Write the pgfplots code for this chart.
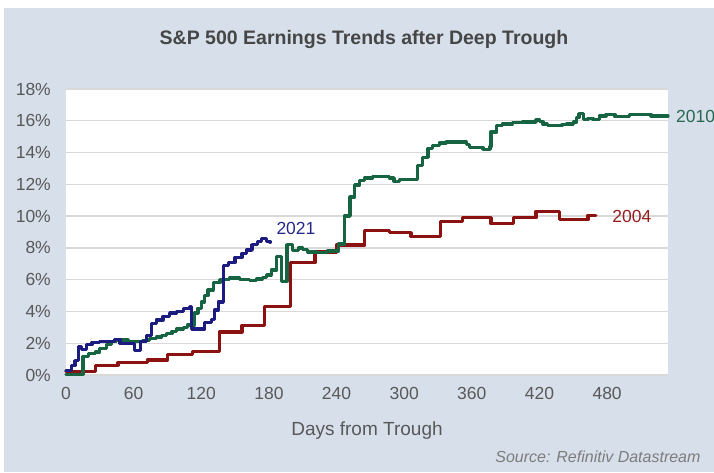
\documentclass[border=0pt]{standalone}
\usepackage{fontspec}
\setmainfont{Liberation Sans}
\usepackage{pgfplots}
\pgfplotsset{compat=1.18}
\definecolor{bgc}{RGB}{214,223,234}
\definecolor{gridc}{RGB}{217,217,217}
\definecolor{tickc}{RGB}{89,89,89}
\definecolor{titlec}{RGB}{70,70,70}
\definecolor{srcc}{RGB}{125,125,125}
\definecolor{c21}{RGB}{28,28,128}
\definecolor{c10}{RGB}{22,100,66}
\definecolor{c04}{RGB}{140,18,18}
\definecolor{t21}{RGB}{40,40,140}
\definecolor{t10}{RGB}{40,105,80}
\definecolor{t04}{RGB}{150,30,30}
\begin{document}
\begin{tikzpicture}
\useasboundingbox (0,0) rectangle (714pt,472pt);
\fill[white] (0,0) rectangle (714pt,472pt);
\fill[bgc] (4pt,0) rectangle (714pt,464pt);
\node[font=\fontsize{19.5}{22}\selectfont\bfseries, text=titlec] at (364pt,432pt) {S\&P 500 Earnings Trends after Deep Trough};
\node[font=\fontsize{16}{18}\selectfont\itshape, text=srcc, anchor=east] at (704pt,15pt) {Source: Refinitiv Datastream};
\begin{axis}[
  at={(66pt,97pt)}, anchor=south west,
  scale only axis, width=602pt, height=286pt,
  xmin=0, xmax=534, ymin=0, ymax=18,
  xtick={0,60,...,480}, ytick={0,2,...,18},
  axis background/.style={fill=white},
  axis line style={draw=none},
  major tick length=0pt,
  ymajorgrids, major grid style={gridc, line width=1.3pt},
  /pgf/number format/assume math mode=true,
  yticklabel={\pgfmathprintnumber{\tick}\%},
  ticklabel style={font=\fontsize{17.5}{20}\selectfont, text=tickc},
  yticklabel style={anchor=east, inner sep=0pt, xshift=-15pt},
  xticklabel style={anchor=north, inner sep=0pt, yshift=-12pt},
  xlabel={Days from Trough},
  xlabel style={font=\fontsize{19}{22}\selectfont, text=tickc, at={(axis description cs:0.5,0)}, anchor=center, yshift=-56pt},
  clip=false,
  every axis plot/.append style={line width=3.3pt, line join=round, line cap=round, const plot},
]
\addplot[c04] coordinates {(0,0.2)(26,0.6)(46,0.77)(72,0.95)(90,1.27)(112,1.47)(136,2.7)(156,3.12)(176,4.33)(199,7.07)(221,7.75)(240,8.18)(265,9.08)(287,8.96)(306,8.72)(332,9.65)(352,9.9)(377,9.52)(397,9.9)(417,10.3)(438,9.77)(463,10.06)(470,10.06)};
\addplot[c10] coordinates {(0,0.05)(15,1.15)(20,1.35)(26,1.45)(30,1.67)(36,1.9)(40.5,2.1)(45,2.2)(55,2.1)(68,2.15)(74,2.3)(80,2.4)(85,2.5)(89,2.6)(94,2.75)(98,2.9)(104,3.0)(108,3.15)(114,3.9)(117,4.2)(120,4.6)(123,5.0)(126,5.35)(130.6,5.8)(136.5,6.0)(145,6.1)(154,6.0)(163,5.95)(169,6.05)(174,6.15)(178,6.3)(182,6.6)(187,7.45)(191,5.9)(196,8.2)(201,7.85)(206,8.0)(210,7.9)(214.5,7.75)(222,7.7)(232,7.8)(241.5,8.25)(247,10.0)(252,11.2)(256,11.95)(260.6,12.26)(265,12.4)(272,12.5)(287,12.4)(291,12.2)(296,12.3)(312,13.2)(316,13.7)(321,14.25)(325,14.45)(331,14.6)(337,14.67)(355,14.5)(358,14.3)(370,14.2)(376,14.36)(377,15.3)(382,15.7)(387,15.8)(396,15.9)(405,15.92)(417,16.04)(420,15.95)(423,15.8)(427,15.7)(440,15.75)(444,15.8)(450,15.93)(453,16.2)(455,16.45)(459,16.1)(463,16.15)(467.5,16.07)(473,16.3)(479,16.4)(487,16.25)(500,16.4)(519,16.3)(534,16.3)};
\addplot[c21] coordinates {(0,0.3)(5,0.6)(8,0.9)(11,1.8)(14,1.6)(18,1.9)(23,2.05)(30,2.1)(43,2.25)(48,2.0)(61,1.55)(66,2.1)(71.5,2.5)(76,3.25)(80,3.46)(86,3.7)(92,3.9)(98,4.0)(104,4.2)(110,4.3)(111.5,2.9)(123,3.3)(129,3.5)(132,4.1)(135,4.6)(139.5,6.9)(144,7.1)(150,7.4)(156,7.65)(160,7.86)(165,8.2)(170,8.4)(173.5,8.6)(178,8.4)(181,8.35)};
\node[font=\fontsize{17.5}{20}\selectfont, text=t21] at (axis cs:204,9.25) {2021};
\node[font=\fontsize{17.5}{20}\selectfont, text=t04] at (axis cs:502,10.0) {2004};
\node[font=\fontsize{17.5}{20}\selectfont, text=t10, anchor=west, inner sep=0pt] at (axis cs:541,16.3) {2010};
\end{axis}
\end{tikzpicture}
\end{document}
